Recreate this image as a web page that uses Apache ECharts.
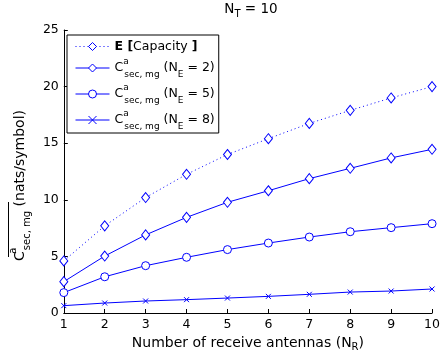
<!DOCTYPE html>
<html>
<head>
<meta charset="utf-8">
<script src="https://cdn.jsdelivr.net/npm/echarts@6/dist/echarts.min.js"></script>
<style>
  html, body { margin: 0; padding: 0; background: #fff; }
  #chart { width: 443px; height: 362px; }
</style>
</head>
<body>
<div id="chart"></div>
<script>
// Number of receive antennas N_R
const receiveAntennas = [1, 2, 3, 4, 5, 6, 7, 8, 9, 10];
// Ergodic capacity E[Capacity] (nats/symbol)
const capacity = [4.6, 7.7, 10.2, 12.25, 14.0, 15.4, 16.75, 17.9, 19.0, 20.0];
// Average secrecy capacity for N_E = 2, 5, 8 eavesdropper antennas
const secrecyNE2 = [2.77, 5.03, 6.9, 8.45, 9.78, 10.8, 11.87, 12.78, 13.7, 14.46];
const secrecyNE5 = [1.8, 3.2, 4.18, 4.92, 5.6, 6.18, 6.71, 7.18, 7.54, 7.89];
const secrecyNE8 = [0.65, 0.88, 1.06, 1.18, 1.32, 1.47, 1.65, 1.85, 1.94, 2.12];
// Axis ticks
const xTicks = { min: 1, max: 10, step: 1 };
const yTicks = { min: 0, max: 25, step: 5 };

const BLUE = '#0000ff';
const FONT = 'DejaVu Sans, Verdana, sans-serif';

const pairs = (ys) => receiveAntennas.map((x, i) => [x, ys[i]]);

// rich text style sets: main size, super/subscript size, line height
function richSet(main, small, lh) {
  const base = { fontFamily: FONT, color: '#000', fontWeight: 'normal' };
  return {
    c: Object.assign({}, base, { fontSize: main, lineHeight: lh }),
    b: Object.assign({}, base, { fontSize: main, lineHeight: lh, fontWeight: 'bold' }),
    n: Object.assign({}, base, { fontSize: main, lineHeight: lh }),
    sup: Object.assign({}, base, { fontSize: small, verticalAlign: 'top', lineHeight: small + 1, width: 1 }),
    sub: Object.assign({}, base, { fontSize: small, verticalAlign: 'bottom', lineHeight: small - 1 })
  };
}

const legendRich = richSet(12.5, 9, 22);
const yNameRich = richSet(14, 10, 24);
const xNameRich = richSet(14, 10, 20);
const titleRich = richSet(13.5, 10, 20);

const secrecyLabel = (ne) => '{c|C}{sup|a}{sub|sec, mg}{n| (N}{sub|E}{n| = ' + ne + ')}';

const names = ['capacity', 'ne2', 'ne5', 'ne8'];
const legendText = {
  capacity: '{b|E [}{n|Capacity }{b|]}',
  ne2: secrecyLabel(2),
  ne5: secrecyLabel(5),
  ne8: secrecyLabel(8)
};

const chart = echarts.init(document.getElementById('chart'), null, { renderer: 'canvas' });

chart.setOption({
  animation: false,
  backgroundColor: '#fff',
  title: {
    text: '{n|N}{sub|T}{n| = 10}',
    left: 246,
    top: -6,
    textAlign: 'center',
    textStyle: { fontWeight: 'normal', rich: titleRich }
  },
  grid: { left: 63, right: 7, top: 30, bottom: 49, containLabel: false },
  legend: {
    data: names,
    orient: 'vertical',
    left: 67,
    top: 35,
    padding: [5, 4, 2, 8],
    itemWidth: 34,
    itemHeight: 10,
    itemGap: 4,
    borderColor: '#000',
    borderWidth: 1,
    backgroundColor: '#fff',
    itemStyle: { color: 'inherit', borderColor: 'inherit', borderWidth: 1 },
    lineStyle: { color: 'inherit', width: 1 },
    formatter: (name) => legendText[name],
    textStyle: { rich: legendRich }
  },
  xAxis: {
    type: 'value',
    min: xTicks.min,
    max: xTicks.max,
    interval: xTicks.step,
    name: '{n|Number of receive antennas (N}{sub|R}{n|)}',
    nameLocation: 'middle',
    nameGap: 19,
    nameTextStyle: { rich: xNameRich },
    axisLine: { lineStyle: { color: '#000', width: 1 } },
    axisTick: { inside: true, length: 4, lineStyle: { color: '#000' } },
    axisLabel: { color: '#000', fontSize: 12.5, fontFamily: FONT, margin: 5 },
    splitLine: { show: false }
  },
  yAxis: {
    type: 'value',
    min: yTicks.min,
    max: yTicks.max,
    interval: yTicks.step,
    name: '{c|C}{sup|a}{sub|sec, mg}{n| (nats/symbol)}',
    nameLocation: 'middle',
    nameRotate: 90,
    nameGap: 25,
    nameTextStyle: { rich: yNameRich, padding: [0, 28, 0, 0] },
    axisLine: { show: true, lineStyle: { color: '#000', width: 1 } },
    axisTick: { show: true, inside: true, length: 4, lineStyle: { color: '#000' } },
    axisLabel: { color: '#000', fontSize: 12.5, fontFamily: FONT, margin: 5 },
    splitLine: { show: false }
  },
  series: [
    {
      name: 'capacity', type: 'line', data: pairs(capacity),
      symbol: 'diamond', symbolSize: [8, 10],
      itemStyle: { color: '#fff', borderColor: BLUE, borderWidth: 1 },
      lineStyle: { color: BLUE, width: 1, type: [1, 3] }
    },
    {
      name: 'ne2', type: 'line', data: pairs(secrecyNE2),
      symbol: 'diamond', symbolSize: [8, 10],
      itemStyle: { color: '#fff', borderColor: BLUE, borderWidth: 1 },
      lineStyle: { color: BLUE, width: 1 }
    },
    {
      name: 'ne5', type: 'line', data: pairs(secrecyNE5),
      symbol: 'circle', symbolSize: 8,
      itemStyle: { color: '#fff', borderColor: BLUE, borderWidth: 1 },
      lineStyle: { color: BLUE, width: 1 }
    },
    {
      name: 'ne8', type: 'line', data: pairs(secrecyNE8),
      symbol: 'path://M0,0L10,10M10,0L0,10', symbolSize: 5,
      itemStyle: { color: 'none', borderColor: BLUE, borderWidth: 1 },
      lineStyle: { color: BLUE, width: 1 }
    }
  ],
  // overbars above the averaged secrecy capacity symbol
  graphic: [
    { type: 'line', shape: { x1: 116, y1: 56.5, x2: 159, y2: 56.5 }, style: { stroke: '#000', lineWidth: 1 } },
    { type: 'line', shape: { x1: 116, y1: 82.5, x2: 159, y2: 82.5 }, style: { stroke: '#000', lineWidth: 1 } },
    { type: 'line', shape: { x1: 116, y1: 108.5, x2: 159, y2: 108.5 }, style: { stroke: '#000', lineWidth: 1 } },
    { type: 'line', shape: { x1: 8.5, y1: 202, x2: 8.5, y2: 257 }, style: { stroke: '#000', lineWidth: 1 } }
  ]
});
</script>
</body>
</html>
